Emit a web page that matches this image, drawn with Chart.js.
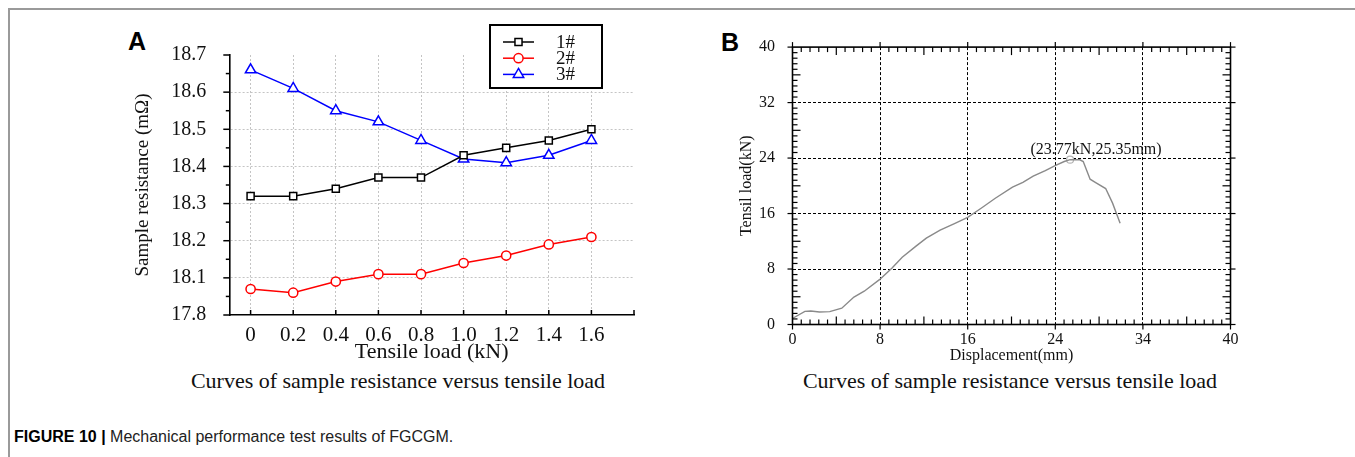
<!DOCTYPE html>
<html>
<head>
<meta charset="utf-8">
<script src="https://cdn.jsdelivr.net/npm/chart.js@4.4.0/dist/chart.umd.min.js"></script>
<style>
    body {
        margin: 0;
        width: 1355px;
        height: 457px;
        background: #fff;
        position: relative;
        overflow: hidden;
        font-family: 'Liberation Serif', 'Times New Roman', serif;
        color: #111;
    }
    .frame {
        position: absolute;
        left: 8px;
        top: 8px;
        right: -10px;
        bottom: -10px;
        border-top: 2px solid #9a9a9a;
        border-left: 2px solid #9a9a9a;
    }
    .panel { position: absolute; }
    .tag {
        position: absolute;
        font: bold 25px 'Liberation Sans', Arial, sans-serif;
        line-height: 25px;
        color: #000;
    }
    .sub {
        position: absolute;
        width: 600px;
        text-align: center;
        font-size: 22px;
        line-height: 26px;
    }
    .caption {
        position: absolute;
        left: 14px;
        top: 427px;
        font: 16px 'Liberation Sans', Arial, sans-serif;
        line-height: 20px;
        color: #222;
    }
    .caption b { color: #000; }
</style>
</head>
<body>
<div class="frame"></div>
<div class="tag" style="left:128px;top:29px">A</div>
<div class="tag" style="left:721px;top:30px">B</div>
<div class="panel" style="left:100px;top:20px;width:560px;height:345px"><canvas id="resistanceChart"></canvas></div>
<div class="panel" style="left:720px;top:20px;width:540px;height:345px"><canvas id="tensileChart"></canvas></div>
<div class="sub" style="left:98px;top:368px">Curves of sample resistance versus tensile load</div>
<div class="sub" style="left:710px;top:368px">Curves of sample resistance versus tensile load</div>
<div class="caption"><b>FIGURE 10 |</b> Mechanical performance test results of FGCGM.</div>

<script>
// Panel A: resistance of three samples under increasing tensile load
const loadKn = [0, 0.2, 0.4, 0.6, 0.8, 1.0, 1.2, 1.4, 1.6];
const loadTickLabels = ['0', '0.2', '0.4', '0.6', '0.8', '1.0', '1.2', '1.4', '1.6'];
const sample1 = [18.32, 18.32, 18.34, 18.37, 18.37, 18.43, 18.45, 18.47, 18.50];
const sample2 = [18.07, 18.06, 18.09, 18.11, 18.11, 18.14, 18.16, 18.19, 18.21];
const sample3 = [18.66, 18.61, 18.55, 18.52, 18.47, 18.42, 18.41, 18.43, 18.47];
const sampleNames = ['1#', '2#', '3#'];
const resistanceTicks = [18.0, 18.1, 18.2, 18.3, 18.4, 18.5, 18.6, 18.7];
const resistanceTickLabels = ['17.8', '18.1', '18.2', '18.3', '18.4', '18.5', '18.6', '18.7'];

// Panel B: load-displacement curve of the tensile test
const dispMm = [0.03, 1.13, 1.67, 2.46, 3.40, 4.50, 5.61, 6.55, 7.97, 9.07, 10.02, 11.28, 12.22, 13.48,
    14.74, 16.00, 17.26, 18.52, 20.09, 21.04, 21.98, 23.09, 24.03, 24.82, 25.35, 26.24, 26.55,
    27.18, 27.65, 28.60, 29.23, 29.92];
const loadCurveKn = [0.9, 1.9, 1.95, 1.8, 1.85, 2.35, 3.95, 4.8, 6.5, 8.1, 9.7, 11.3, 12.45, 13.6,
    14.5, 15.45, 16.8, 18.2, 19.8, 20.5, 21.4, 22.2, 22.95, 23.5, 23.77, 23.75, 23.5,
    20.95, 20.5, 19.6, 17.5, 14.6];
const peakLoadKn = 23.77;
const peakDispMm = 25.35;
const dispTicks = [0, 8, 16, 24, 32, 40];
const dispTickLabels = ['0', '8', '16', '24', '34', '40'];
const loadTicks = [0, 8, 16, 24, 32, 40];
const loadTickLabelsB = ['0', '8', '16', '24', '32', '40'];

Chart.defaults.font.family = "'Liberation Serif', 'Times New Roman', serif";
Chart.defaults.color = '#111';
Chart.defaults.animation = false;

const sampleStyles = [
    { color: '#000000', pointStyle: 'rect', radius: 5 },
    { color: '#ff0000', pointStyle: 'circle', radius: 4.6 },
    { color: '#0000ff', pointStyle: 'triangle', radius: 6 }
];

function pairs(xs, ys) {
    return xs.map((x, i) => ({ x: x, y: ys[i] }));
}

function strokeLine(ctx, x1, y1, x2, y2) {
    ctx.beginPath();
    ctx.moveTo(x1, y1);
    ctx.lineTo(x2, y2);
    ctx.stroke();
}

// tick marks of panel A: outward on the resistance axis, inward on the load axis
const resistanceTickMarks = {
    id: 'resistanceTickMarks',
    afterDraw(chart) {
        const { ctx, chartArea, scales: { x, y } } = chart;
        ctx.save();
        ctx.strokeStyle = '#000';
        ctx.lineWidth = 1.5;
        for (let k = 0; k <= 14; k++) {
            const py = y.getPixelForValue(y.min + k * 0.05);
            strokeLine(ctx, chartArea.left - (k % 2 === 0 ? 6 : 3.5), py, chartArea.left, py);
        }
        for (let k = 0; k <= 9; k++) {
            const px = x.getPixelForValue(k * 0.2);
            strokeLine(ctx, px, chartArea.bottom, px, chartArea.bottom - 5);
        }
        ctx.restore();
    }
};

// boxed legend in the upper right corner of panel A
const boxedLegend = {
    id: 'boxedLegend',
    afterDraw(chart) {
        const ctx = chart.ctx;
        const box = { left: 390, top: 5, width: 112, height: 63 };
        ctx.save();
        ctx.fillStyle = '#fff';
        ctx.fillRect(box.left, box.top, box.width, box.height);
        ctx.strokeStyle = '#000';
        ctx.lineWidth = 2;
        ctx.strokeRect(box.left, box.top, box.width, box.height);
        chart.data.datasets.forEach((ds, i) => {
            const cy = box.top + 17 + i * 16.2;
            ctx.strokeStyle = ds.borderColor;
            ctx.lineWidth = 1.5;
            strokeLine(ctx, box.left + 13, cy, box.left + 44, cy);
            ctx.fillStyle = '#fff';
            Chart.helpers.drawPoint(ctx, {
                pointStyle: ds.pointStyle,
                radius: ds.pointRadius,
                rotation: 0,
                borderWidth: 1.5
            }, box.left + 28.5, cy);
            ctx.fillStyle = '#111';
            ctx.font = "19px 'Liberation Serif', serif";
            ctx.textBaseline = 'middle';
            ctx.textAlign = 'left';
            ctx.fillText(ds.label, box.left + 66, cy + 1);
        });
        ctx.restore();
    }
};

const resistanceChart = new Chart(document.getElementById('resistanceChart'), {
    type: 'line',
    data: {
        datasets: [sample1, sample2, sample3].map((values, i) => ({
            label: sampleNames[i],
            data: pairs(loadKn, values),
            borderColor: sampleStyles[i].color,
            borderWidth: 1.5,
            pointStyle: sampleStyles[i].pointStyle,
            pointRadius: sampleStyles[i].radius,
            pointBackgroundColor: '#fff',
            pointBorderColor: sampleStyles[i].color,
            pointBorderWidth: 1.5,
            tension: 0
        }))
    },
    options: {
        responsive: true,
        maintainAspectRatio: false,
        devicePixelRatio: 1,
        layout: { padding: { left: 32, top: 17.7, right: 26, bottom: 0 } },
        plugins: { legend: { display: false }, tooltip: { enabled: false } },
        scales: {
            x: {
                type: 'linear',
                min: -0.1,
                max: 1.8,
                afterBuildTicks: scale => { scale.ticks = loadKn.map(v => ({ value: v })); },
                afterFit: scale => { scale.height = 50; },
                ticks: {
                    autoSkip: false,
                    maxRotation: 0,
                    padding: 7.4,
                    font: { size: 21 },
                    callback: (value, index) => loadTickLabels[index]
                },
                grid: { color: '#c4c4c4', lineWidth: 1, drawTicks: false },
                border: { display: true, color: '#000', width: 1.6, dash: [2, 2] },
                title: {
                    display: true,
                    text: 'Tensile load (kN)',
                    font: { size: 22 },
                    padding: 0
                }
            },
            y: {
                type: 'linear',
                min: 18.0,
                max: 18.7,
                afterBuildTicks: scale => { scale.ticks = resistanceTicks.map(v => ({ value: v })); },
                afterFit: scale => { scale.width = 97.3; },
                ticks: {
                    autoSkip: false,
                    padding: 23,
                    font: { size: 20 },
                    callback: (value, index) => resistanceTickLabels[index]
                },
                grid: {
                    color: c => (c.tick && (c.tick.value === 18.0 || c.tick.value === 18.7)) ? 'rgba(0,0,0,0)' : '#c4c4c4',
                    lineWidth: 1,
                    drawTicks: false
                },
                border: { display: true, color: '#000', width: 1.6, dash: [2, 2] },
                title: {
                    display: true,
                    text: 'Sample resistance (mΩ)',
                    font: { size: 19 },
                    padding: 0
                }
            }
        }
    },
    plugins: [resistanceTickMarks, boxedLegend]
});

// closed frame, minor ticks on every side and the peak label of panel B
const tensileFrame = {
    id: 'tensileFrame',
    afterDraw(chart) {
        const { ctx, chartArea: a, scales: { x, y } } = chart;
        ctx.save();
        ctx.strokeStyle = '#000';
        ctx.lineWidth = 1.6;
        ctx.strokeRect(a.left, a.top, a.right - a.left, a.bottom - a.top);
        ctx.lineWidth = 1.2;
        for (let k = 0; k <= 50; k++) {
            const len = k % 10 === 0 ? 0 : (k % 5 === 0 ? 8 : 5);
            const out = k % 10 === 0 ? 5 : 0;
            const px = x.getPixelForValue(k * 0.8);
            const py = y.getPixelForValue(k * 0.8);
            strokeLine(ctx, px, a.bottom + out, px, a.bottom - len);
            strokeLine(ctx, px, a.top - out, px, a.top + len);
            strokeLine(ctx, a.left - out, py, a.left + len, py);
            strokeLine(ctx, a.right + out, py, a.right - len, py);
        }
        const peak = chart.getDatasetMeta(1).data[0];
        ctx.fillStyle = '#111';
        ctx.font = "16px 'Liberation Serif', serif";
        ctx.textAlign = 'center';
        ctx.textBaseline = 'middle';
        ctx.fillText('(' + peakLoadKn + 'kN,' + peakDispMm + 'mm)', peak.x + 26, peak.y - 10);
        ctx.restore();
    }
};

const tensileChart = new Chart(document.getElementById('tensileChart'), {
    type: 'line',
    data: {
        datasets: [
            {
                label: 'Tensile load',
                data: pairs(dispMm, loadCurveKn),
                borderColor: '#8a8a8a',
                borderWidth: 1.4,
                pointRadius: 0,
                tension: 0
            },
            {
                label: 'Peak',
                data: [{ x: peakDispMm, y: peakLoadKn }],
                showLine: false,
                pointRadius: 3.5,
                pointBackgroundColor: '#fff',
                pointBorderColor: '#b5b5b5',
                pointBorderWidth: 1.2
            }
        ]
    },
    options: {
        responsive: true,
        maintainAspectRatio: false,
        devicePixelRatio: 1,
        layout: { padding: { left: 17.4, top: 13.5, right: 29.5, bottom: 0 } },
        plugins: { legend: { display: false }, tooltip: { enabled: false } },
        scales: {
            x: {
                type: 'linear',
                min: 0,
                max: 40,
                afterBuildTicks: scale => { scale.ticks = dispTicks.map(v => ({ value: v })); },
                afterFit: scale => { scale.height = 40.5; },
                ticks: {
                    autoSkip: false,
                    maxRotation: 0,
                    padding: 5.3,
                    font: { size: 16 },
                    callback: (value, index) => dispTickLabels[index]
                },
                grid: {
                    color: c => (c.tick && (c.tick.value === 0 || c.tick.value === 40)) ? 'rgba(0,0,0,0)' : '#000',
                    lineWidth: 1,
                    drawTicks: false
                },
                border: { display: false, dash: [3, 2] },
                title: {
                    display: true,
                    text: 'Displacement(mm)',
                    font: { size: 16 },
                    padding: 0
                }
            },
            y: {
                type: 'linear',
                min: 0,
                max: 40,
                afterBuildTicks: scale => { scale.ticks = loadTicks.map(v => ({ value: v })); },
                afterFit: scale => { scale.width = 55.1; },
                ticks: {
                    autoSkip: false,
                    padding: 17.5,
                    font: { size: 16 },
                    callback: (value, index) => loadTickLabelsB[index]
                },
                grid: {
                    color: c => (c.tick && (c.tick.value === 0 || c.tick.value === 40)) ? 'rgba(0,0,0,0)' : '#000',
                    lineWidth: 1,
                    drawTicks: false
                },
                border: { display: false, dash: [3, 2] },
                title: {
                    display: true,
                    text: 'Tensil load(kN)',
                    font: { size: 16 },
                    padding: 0
                }
            }
        }
    },
    plugins: [tensileFrame]
});
</script>
</body>
</html>
